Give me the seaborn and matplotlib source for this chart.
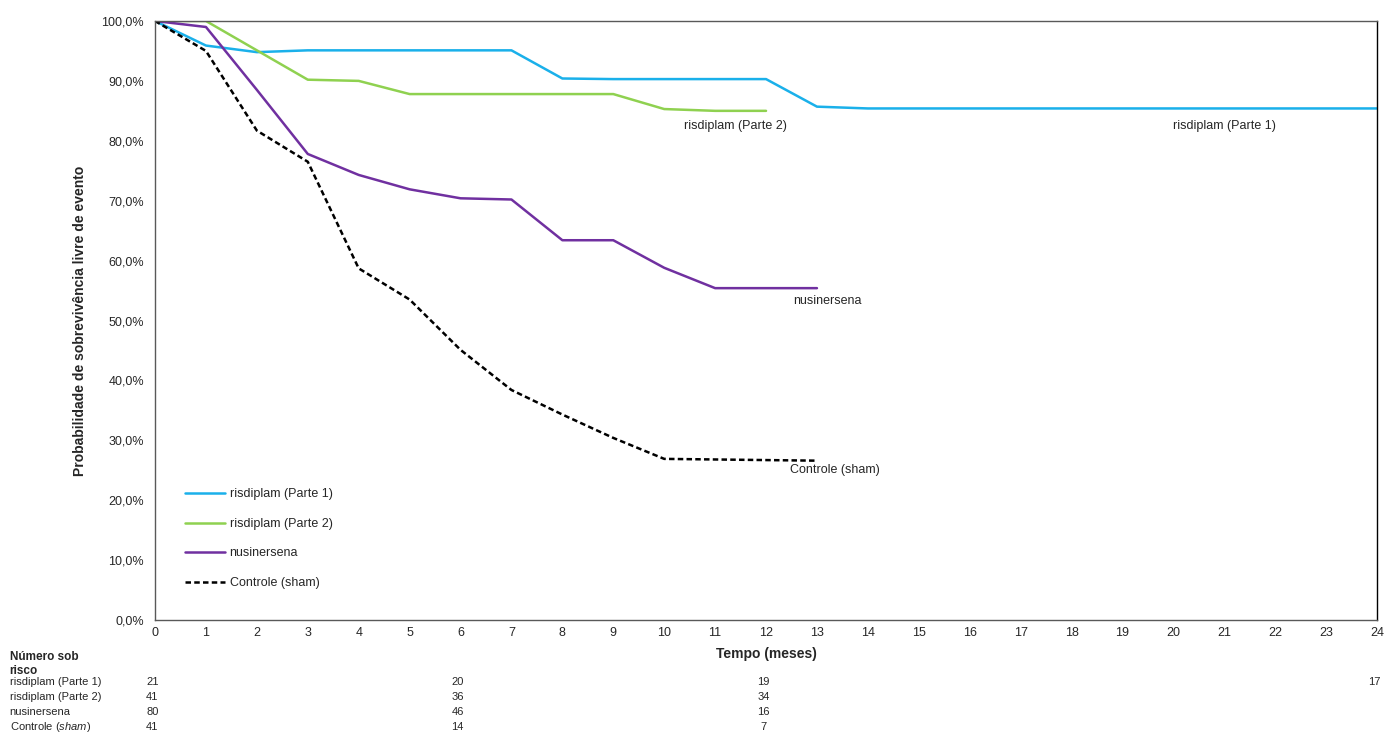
import numpy as np
import pandas as pd
import seaborn as sns
import matplotlib.pyplot as plt
from matplotlib.ticker import FuncFormatter

# Valores (probabilidade em %)
meses_p1 = [0, 1, 2, 3, 4, 5, 6, 7, 8, 9, 10, 11, 12, 13, 14, 15, 16, 17, 18, 19, 20, 21, 22, 23, 24]
risdiplam_p1 = [100, 95.9, 94.8, 95.1, 95.1, 95.1, 95.1, 95.1, 90.4, 90.3, 90.3, 90.3, 90.3,
                85.7, 85.4, 85.4, 85.4, 85.4, 85.4, 85.4, 85.4, 85.4, 85.4, 85.4, 85.4]
meses_p2 = [0, 1, 2, 3, 4, 5, 6, 7, 8, 9, 10, 11, 12]
risdiplam_p2 = [100, 100, 95.1, 90.2, 90.0, 87.8, 87.8, 87.8, 87.8, 87.8, 85.3, 85.0, 85.0]
meses_nus = [0, 1, 2, 3, 4, 5, 6, 7, 8, 9, 10, 11, 12, 13]
nusinersena = [100, 99.0, 88.5, 77.8, 74.3, 71.9, 70.4, 70.2, 63.4, 63.4, 58.8, 55.4, 55.4, 55.4]
meses_ctrl = [0, 1, 2, 3, 4, 5, 6, 7, 8, 9, 10, 11, 12, 13]
controle = [100, 95.0, 81.7, 76.5, 58.7, 53.5, 45.1, 38.4, 34.3, 30.4, 26.9, 26.8, 26.7, 26.6]

nomes = ['risdiplam (Parte 1)', 'risdiplam (Parte 2)', 'nusinersena', 'Controle (sham)']
cores = ['#1ab0ea', '#8fd150', '#7030a0', 'black']

# Número sob risco
tempos_risco = [0, 6, 12, 24]
risco_p1 = [21, 20, 19, 17]
risco_p2 = [41, 36, 34]
risco_nus = [80, 46, 16]
risco_ctrl = [41, 14, 7]

frames = []
for nome, x, y in zip(nomes, [meses_p1, meses_p2, meses_nus, meses_ctrl],
                      [risdiplam_p1, risdiplam_p2, nusinersena, controle]):
    frames.append(pd.DataFrame({'mes': x, 'prob': y, 'grupo': nome}))
df = pd.concat(frames, ignore_index=True)

sns.set_style("white")
plt.rcParams['font.family'] = ['Liberation Sans', 'DejaVu Sans']
plt.rcParams['mathtext.fontset'] = 'custom'
plt.rcParams['mathtext.rm'] = 'Liberation Sans'
plt.rcParams['mathtext.it'] = 'Liberation Sans:italic'

fig = plt.figure(figsize=(13.88, 7.34), dpi=100)
ax = fig.add_axes([0.1117, 0.1553, 0.8804, 0.8161])

sns.lineplot(data=df, x='mes', y='prob', hue='grupo', style='grupo',
             palette=dict(zip(nomes, cores)),
             dashes={nomes[0]: '', nomes[1]: '', nomes[2]: '', nomes[3]: (2.2, 1.3)},
             linewidth=1.8, ax=ax)

ax.set_xlim(0, 24)
ax.set_ylim(0, 100)
ax.set_xticks(range(0, 25))
ax.set_yticks(range(0, 101, 10))
ax.yaxis.set_major_formatter(FuncFormatter(lambda v, p: f'{v:.1f}'.replace('.', ',') + '%'))
ax.tick_params(axis='x', direction='in', length=3, width=1, color='#404040', labelsize=9, pad=5)
ax.tick_params(axis='y', length=0, labelsize=9, pad=8)
for s in ['left', 'bottom', 'top']:
    ax.spines[s].set_color('#595959')
ax.spines['right'].set_color('black')
for s in ax.spines.values():
    s.set_linewidth(1)

ax.set_xlabel('Tempo (meses)', fontsize=10, fontweight='bold', labelpad=6)
ax.set_ylabel('Probabilidade de sobrevivência livre de evento', fontsize=10,
              fontweight='bold', labelpad=10)

leg = ax.legend(loc='lower left', bbox_to_anchor=(0.015, 0.033), frameon=False,
                fontsize=9, handlelength=3.2, labelspacing=1.4, handletextpad=0.4)

# rótulos das curvas
ax.text(11.4, 82.4, 'risdiplam (Parte 2)', fontsize=9, ha='center', va='center')
ax.text(21.0, 82.5, 'risdiplam (Parte 1)', fontsize=9, ha='center', va='center')
ax.text(13.2, 53.3, 'nusinersena', fontsize=9, ha='center', va='center')
ax.text(13.35, 25.0, 'Controle (sham)', fontsize=9, ha='center', va='center')

# tabela de número sob risco
fig.text(0.007, 1 - 664 / 734, 'Número sob\nrisco', fontsize=8.5, fontweight='bold',
         va='center', ha='left', linespacing=1.25)
linhas = [risco_p1, risco_p2, risco_nus, risco_ctrl]
rotulos = ['risdiplam (Parte 1)', 'risdiplam (Parte 2)', 'nusinersena',
           'Controle ($\\mathit{sham}$)']
ys = [682, 697, 712, 727]
for lab, vals, yp in zip(rotulos, linhas, ys):
    yf = 1 - yp / 734
    fig.text(0.007, yf, lab, fontsize=8, va='center', ha='left')
    for t, v in zip(tempos_risco, vals):
        xf = fig.transFigure.inverted().transform(ax.transData.transform((t, 0)))[0]
        fig.text(xf - 0.002, yf, str(v), fontsize=8, va='center', ha='center')

fig.savefig('out.png', dpi=100)
